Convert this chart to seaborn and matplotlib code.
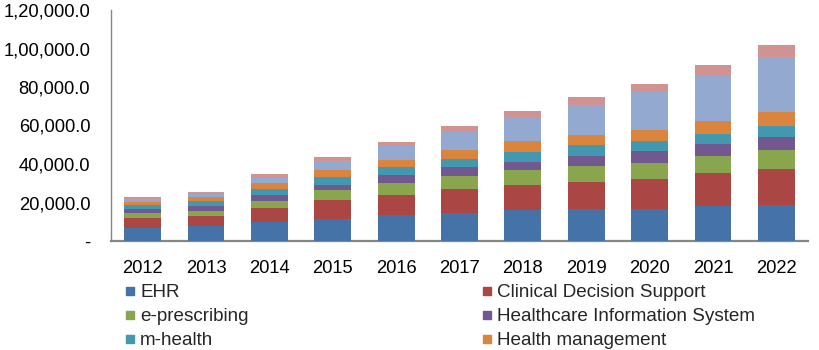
import matplotlib
matplotlib.use("Agg")
import matplotlib.pyplot as plt
from matplotlib.lines import Line2D
import numpy as np
import pandas as pd
import seaborn as sns

years = ["2012", "2013", "2014", "2015", "2016", "2017", "2018", "2019", "2020", "2021", "2022"]
ehr = [6900, 8000, 10000, 11500, 13500, 14400, 16000, 16700, 16700, 18400, 18700]
cds = [5200, 5000, 7300, 9700, 10600, 12700, 13300, 14200, 15600, 17000, 18900]
eprescribing = [2300, 2800, 3600, 5200, 5900, 6900, 7600, 8200, 8300, 9000, 9700]
his = [2100, 2400, 3000, 2900, 4500, 4400, 4300, 5200, 5900, 5900, 6800]
mhealth = [2200, 2400, 3100, 3800, 3800, 4300, 5200, 5400, 5400, 5200, 5900]
health_mgmt = [1700, 2100, 3100, 3800, 3800, 4700, 5400, 5200, 5900, 6800, 6800]
telehealth = [1400, 1600, 3100, 4500, 7400, 9700, 12700, 15600, 19400, 23900, 29000]
others = [1000, 1400, 1400, 2200, 2100, 2900, 3000, 4500, 4500, 5200, 6100]

series_names = ["EHR", "Clinical Decision Support", "e-prescribing",
                "Healthcare Information System", "m-health", "Health management",
                "Telehealth", "Others"]
series_values = [ehr, cds, eprescribing, his, mhealth, health_mgmt, telehealth, others]
colors = ["#4572A7", "#AA4643", "#89A54E", "#71588F", "#4198AF", "#DB843D", "#93A9CF", "#D19392"]

ytick_vals = [0, 20000, 40000, 60000, 80000, 100000, 120000]
ytick_labels = ["-", "20,000.0", "40,000.0", "60,000.0", "80,000.0", "1,00,000.0", "1,20,000.0"]

sns.set_theme(style="white")
plt.rcParams["font.family"] = ["Liberation Sans", "DejaVu Sans"]

fig = plt.figure(figsize=(8.2, 3.5), dpi=100)
ax = fig.add_axes([111 / 820, 1 - 241 / 350, (808 - 111) / 820, (241 - 10) / 350])

vals = np.array(series_values, dtype=float)
cum = np.cumsum(vals, axis=0)
# draw from the tallest cumulative down so each segment shows
for i in range(len(series_names) - 1, -1, -1):
    df = pd.DataFrame({"year": years, "value": cum[i]})
    sns.barplot(data=df, x="year", y="value", color=colors[i], width=0.58,
                errorbar=None, saturation=1, linewidth=0, ax=ax, zorder=2 + (8 - i))

ax.set_ylim(0, 120000)
ax.set_xlim(-0.5, len(years) - 0.5)
ax.set_yticks(ytick_vals)
ax.set_yticklabels(ytick_labels)
ax.set_xlabel("")
ax.set_ylabel("")
ax.tick_params(axis="y", length=0, pad=15, labelsize=13.2, colors="#000000")
ax.tick_params(axis="x", length=0, pad=14, labelsize=13.2, colors="#000000")
for s in ["top", "right"]:
    ax.spines[s].set_visible(False)
ax.spines["left"].set_color("#868686")
ax.spines["left"].set_linewidth(1.0)
ax.spines["bottom"].set_color("#868686")
ax.spines["bottom"].set_linewidth(1.6)
ax.grid(False)

def make_handle(c):
    return Line2D([], [], marker="s", linestyle="none", markersize=5.5,
                  markerfacecolor=c, markeredgecolor=c)

left_idx = [0, 2, 4]
right_idx = [1, 3, 5]
for idxs, xpos in [(left_idx, 124 / 820), (right_idx, 481 / 820)]:
    leg = fig.legend([make_handle(colors[i]) for i in idxs],
                     [series_names[i] for i in idxs],
                     loc="upper left", bbox_to_anchor=(xpos, 1 - 284 / 350),
                     frameon=False, fontsize=13.6, borderpad=0, borderaxespad=0,
                     handlelength=0.6, handletextpad=0.25, labelspacing=0.36)

fig.savefig("out.png", dpi=100)
